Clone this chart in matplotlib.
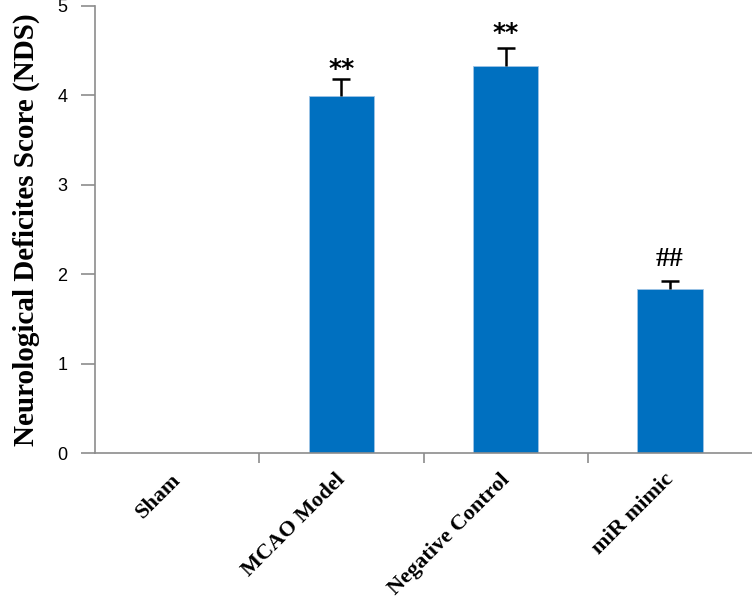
import matplotlib
matplotlib.use("Agg")
import matplotlib.pyplot as plt
import matplotlib.transforms as mtransforms
import numpy as np

categories = ["Sham", "MCAO Model", "Negative Control", "miR mimic"]
values = [0.0, 3.99, 4.33, 1.84]
errors = [0.0, 0.19, 0.20, 0.08]
marks = ["", "**", "**", "##"]
mark_offsets = [0.0, 0.11, 0.17, 0.24]
yticks = [0, 1, 2, 3, 4, 5]

bar_color = "#0070C0"
axis_color = "#8C8C8C"

fig = plt.figure(figsize=(7.52, 6.02), dpi=100)
ax = fig.add_axes([95/752, 149/602, 1 - 95/752, (453-6)/602])

x = np.arange(len(categories))
ax.bar(x, values, width=0.4, color=bar_color, edgecolor="#9DC3E6", linewidth=0.6, zorder=2)
xe = x[1:]
ve = np.array(values[1:])
ee = np.array(errors[1:])
ax.vlines(xe, ve, ve + ee, color="black", linewidth=1.8, zorder=3)
ax.plot(xe, ve + ee, linestyle="none", marker="_", markersize=13,
        markeredgewidth=1.8, color="black", zorder=3)

for xi, v, e, m, o in zip(x, values, errors, marks, mark_offsets):
    if not m:
        continue
    if m == "##":
        ax.text(xi, v + e + o, m, ha="center", va="center", fontsize=20,
                fontweight="bold", family="Liberation Serif")
    else:
        ax.text(xi, v + e + o, m, ha="center", va="center", fontsize=18,
                fontweight="bold", family="DejaVu Sans")

ax.set_ylim(0, 5)
ax.set_xlim(-0.5, 3.5)
ax.set_yticks(yticks)
ax.set_yticklabels([str(t) for t in yticks], family="Liberation Sans", fontsize=13)

ax.set_xticks([0.5, 1.5, 2.5], minor=False)
ax.set_xticklabels([])
ax.tick_params(axis="x", which="major", length=7, color=axis_color, width=1.2)
ax.set_xticks(x, minor=True)
ax.set_xticklabels(categories, minor=True, rotation=45, ha="right", va="top",
                   rotation_mode="anchor", fontsize=16, fontweight="bold",
                   family="Liberation Serif")
ax.tick_params(axis="x", which="minor", length=0, pad=12)
shift = mtransforms.ScaledTranslation(-6/100, 0, fig.dpi_scale_trans)
for lab in ax.get_xticklabels(minor=True):
    lab.set_transform(lab.get_transform() + shift)
ax.tick_params(axis="y", length=10, color=axis_color, width=1.2, pad=10)

for s in ["top", "right"]:
    ax.spines[s].set_visible(False)
for s in ["left", "bottom"]:
    ax.spines[s].set_color(axis_color)
    ax.spines[s].set_linewidth(1.2)

ax.set_ylabel("Neurological Deficites Score (NDS)", fontsize=21, fontweight="bold",
              family="Liberation Serif", labelpad=12)

fig.savefig("out.png", dpi=100)
